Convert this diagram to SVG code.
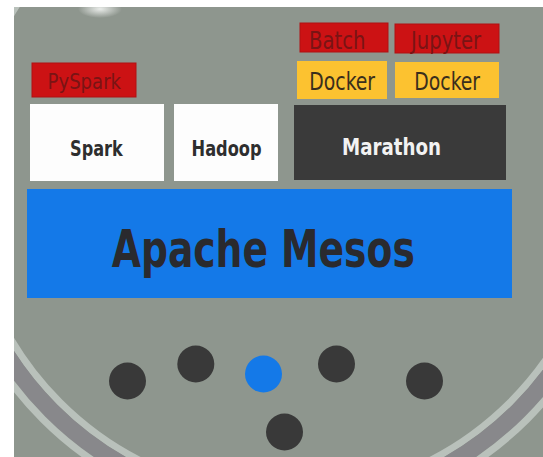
<svg xmlns="http://www.w3.org/2000/svg" width="543" height="457" viewBox="0 0 543 457">
  <defs>
    <radialGradient id="glow" cx="0.5" cy="0.5" r="0.5">
      <stop offset="0" stop-color="#f4f6f4" stop-opacity="0.9"/>
      <stop offset="1" stop-color="#f4f6f4" stop-opacity="0"/>
    </radialGradient>
    <clipPath id="bgclip">
      <rect x="14" y="7" width="529" height="450"/>
    </clipPath>
    <style>
      .lbl { font-family: "Liberation Sans Narrow", "DejaVu Sans Condensed", "Roboto", sans-serif; text-anchor: middle; }
      .b { font-weight: bold; }
      .red { fill: #cc1214; stroke: #b01012; stroke-width: 1; }
      .yel { fill: #fcc230; }
      .wht { fill: #fdfdfd; }
      .redtxt { fill: #7a1414; }
      .dktxt { fill: #2e2e2e; }
      .dot { fill: #393939; }
    </style>
  </defs>

  <rect width="543" height="457" fill="#ffffff"/>
  <g id="background" clip-path="url(#bgclip)">
    <rect x="14" y="7" width="529" height="450" fill="#8e968e"/>
    <ellipse cx="100" cy="9" rx="22" ry="9" fill="url(#glow)"/>
    <circle cx="285" cy="177" r="318.5" fill="none" stroke="#b9c1bb" stroke-width="7"/>
    <circle cx="285" cy="177" r="330.5" fill="none" stroke="#88888b" stroke-width="17"/>
    <circle cx="285" cy="177" r="342.5" fill="none" stroke="#b9c1bb" stroke-width="7"/>
  </g>

  <g id="connectors"></g>

  <g id="pyspark">
    <rect class="red" x="32" y="63" width="104" height="34"/>
    <text class="lbl redtxt" x="84.3" y="89.3" font-size="21" textLength="73.5" lengthAdjust="spacingAndGlyphs">PySpark</text>
  </g>
  <g id="batch">
    <rect class="red" x="300" y="23" width="88" height="29"/>
    <text class="lbl redtxt" x="337.3" y="49.3" font-size="25" textLength="56.5" lengthAdjust="spacingAndGlyphs">Batch</text>
  </g>
  <g id="jupyter">
    <rect class="red" x="395" y="24" width="104" height="29"/>
    <text class="lbl redtxt" x="446" y="49" font-size="25" textLength="70" lengthAdjust="spacingAndGlyphs">Jupyter</text>
  </g>
  <g id="docker1">
    <rect class="yel" x="297" y="61" width="90" height="38"/>
    <text class="lbl" fill="#3a2e1c" x="342.2" y="90" font-size="24" textLength="65.8" lengthAdjust="spacingAndGlyphs">Docker</text>
  </g>
  <g id="docker2">
    <rect class="yel" x="395" y="62" width="104" height="36"/>
    <text class="lbl" fill="#3a2e1c" x="447.2" y="90" font-size="24" textLength="65.8" lengthAdjust="spacingAndGlyphs">Docker</text>
  </g>
  <g id="spark">
    <rect class="wht" x="30" y="104" width="134" height="77"/>
    <text class="lbl b dktxt" x="96.4" y="155.5" font-size="22" textLength="52.7" lengthAdjust="spacingAndGlyphs">Spark</text>
  </g>
  <g id="hadoop">
    <rect class="wht" x="174" y="104" width="104" height="77"/>
    <text class="lbl b dktxt" x="226.6" y="155.5" font-size="22" textLength="70" lengthAdjust="spacingAndGlyphs">Hadoop</text>
  </g>
  <g id="marathon">
    <rect x="294" y="105" width="212" height="75" fill="#3a3a3a"/>
    <text class="lbl b" fill="#f2f2f2" x="391.5" y="155" font-size="23" textLength="99" lengthAdjust="spacingAndGlyphs">Marathon</text>
  </g>
  <g id="mesos">
    <rect x="27" y="189" width="485" height="109" fill="#1479e8"/>
    <text class="lbl b" fill="#2a2a2e" x="263.3" y="267" font-size="52" textLength="303" lengthAdjust="spacingAndGlyphs">Apache Mesos</text>
  </g>

  <g id="dot1"><circle class="dot" cx="127.5" cy="381" r="18.5"/></g>
  <g id="dot2"><circle class="dot" cx="195.8" cy="364" r="18.5"/></g>
  <g id="dot3"><circle cx="263.5" cy="374" r="18.5" fill="#1479e8"/></g>
  <g id="dot4"><circle class="dot" cx="336.5" cy="364" r="18.5"/></g>
  <g id="dot5"><circle class="dot" cx="424.5" cy="381" r="18.5"/></g>
  <g id="dot6"><circle class="dot" cx="284.5" cy="432" r="18.5"/></g>
</svg>
